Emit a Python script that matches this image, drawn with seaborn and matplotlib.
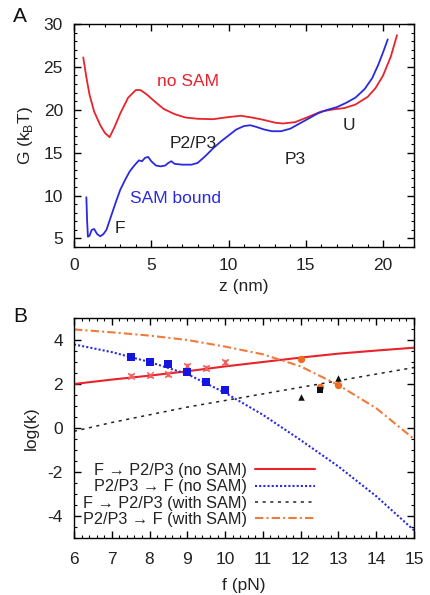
import numpy as np
import pandas as pd
import matplotlib
matplotlib.use("Agg")
import matplotlib.pyplot as plt
from matplotlib.ticker import MultipleLocator
import seaborn as sns

# ---------------- Panel A data ----------------
z_nosam = [0.6, 0.8, 1.0, 1.3, 1.7, 2.0, 2.3, 2.6, 3.0, 3.5, 4.0, 4.3, 4.7, 5.2, 5.8,
           6.5, 7.2, 8.0, 9.0, 10.0, 10.8, 11.5, 12.2, 13.0, 13.5, 14.3, 15.2, 16.0,
           16.8, 17.5, 18.2, 19.0, 19.5, 20.0, 20.5, 20.9]
G_nosam = [26.1, 23.8, 21.8, 19.8, 18.2, 17.3, 16.8, 17.9, 19.6, 21.4, 22.3, 22.3, 21.8,
           21.0, 20.1, 19.5, 19.1, 18.95, 18.9, 19.15, 19.3, 19.1, 18.85, 18.5, 18.4,
           18.55, 19.2, 19.8, 20.05, 20.2, 20.6, 21.5, 22.5, 24.0, 26.2, 28.7]

z_sam = [0.8, 0.85, 0.9, 1.0, 1.15, 1.3, 1.5, 1.7, 1.9, 2.1, 2.4, 2.7, 3.0, 3.3, 3.6,
         3.9, 4.2, 4.4, 4.6, 4.8, 5.0, 5.3, 5.6, 5.9, 6.1, 6.3, 6.5, 7.0, 7.6, 8.0,
         8.5, 9.0, 9.5, 10.0, 10.5, 11.0, 11.4, 11.8, 12.3, 12.8, 13.4, 14.0, 14.6,
         15.2, 15.8, 16.4, 17.0, 17.6, 18.2, 18.8, 19.3, 19.7, 20.0, 20.3]
G_sam = [9.8, 7.0, 5.2, 5.3, 6.0, 6.1, 5.5, 5.25, 5.5, 6.0, 7.6, 9.2, 10.7, 11.8, 12.8,
         13.5, 14.1, 14.0, 14.4, 14.5, 14.0, 13.5, 13.4, 13.5, 13.8, 14.0, 13.7, 13.6,
         13.6, 13.8, 14.6, 15.5, 16.3, 17.0, 17.7, 18.1, 18.2, 18.0, 17.7, 17.5, 17.5,
         17.8, 18.4, 19.0, 19.6, 20.0, 20.3, 20.8, 21.4, 22.4, 23.7, 25.3, 26.7, 28.2]

# ---------------- Panel B data ----------------
f_grid = [6, 7, 8, 9, 10, 11, 12, 13, 14, 15]
k_F_P_nosam = [2.0, 2.2, 2.38, 2.58, 2.8, 3.0, 3.2, 3.38, 3.52, 3.65]
k_P_F_nosam = [3.8, 3.45, 3.0, 2.45, 1.6, 0.6, -0.55, -1.75, -3.1, -4.65]
k_F_P_sam = [-0.15, 0.25, 0.6, 0.95, 1.25, 1.55, 1.85, 2.15, 2.45, 2.75]
k_P_F_sam = [4.48, 4.35, 4.2, 4.0, 3.7, 3.35, 2.8, 1.95, 0.9, -0.5]

f_red_pts = [7.5, 8.0, 8.5, 9.0, 9.5, 10.0]
k_red_pts = [2.38, 2.39, 2.45, 2.83, 2.72, 3.0]
f_blue_pts = [7.5, 8.0, 8.5, 9.0, 9.5, 10.0]
k_blue_pts = [3.22, 3.0, 2.89, 2.54, 2.08, 1.71]
f_orange_pts = [12.0, 12.5, 13.0]
k_orange_pts = [3.14, 1.85, 1.94]
f_black_tri = [12.0, 13.0]
k_black_tri = [1.41, 2.27]
f_black_sq = [12.5]
k_black_sq = [1.75]

legend_labels = ["F \u2192 P2/P3 (no SAM)", "P2/P3 \u2192 F (no SAM)",
                 "F \u2192 P2/P3 (with SAM)", "P2/P3 \u2192 F (with SAM)"]

RED = "#e8232b"
BLUE = "#2a2ae0"
BLACK = "#222222"
ORANGE = "#f07a3a"
TXT = "#222222"
FS = 12.5

sns.set_theme(style="ticks")
plt.rcParams["font.family"] = ["Liberation Sans", "DejaVu Sans"]
plt.rcParams["mathtext.fontset"] = "custom"
plt.rcParams["mathtext.rm"] = "Liberation Sans"
plt.rcParams["font.size"] = FS
plt.rcParams["axes.linewidth"] = 1.0
plt.rcParams["axes.unicode_minus"] = False

W, H = 431, 595
fig = plt.figure(figsize=(W / 100, H / 100), dpi=100)

def px_axes(l, t, r, b):
    return fig.add_axes([l / W, 1 - b / H, (r - l) / W, (b - t) / H])

def style_ticks(ax, xpad):
    ax.tick_params(which="both", direction="in", top=True, right=True,
                   labelsize=FS, color="black", labelcolor=TXT)
    ax.tick_params(which="major", length=5, width=1)
    ax.tick_params(axis="x", which="major", pad=xpad)
    ax.tick_params(axis="y", which="major", pad=8)
    ax.tick_params(which="minor", length=2.5, width=0.8)
    for s in ax.spines.values():
        s.set_color("black")
        s.set_linewidth(1.0)

# ---------------- Panel A ----------------
axA = px_axes(74, 24, 414, 247)
dA1 = pd.DataFrame({"z": z_nosam, "G": G_nosam})
dA2 = pd.DataFrame({"z": z_sam, "G": G_sam})
sns.lineplot(data=dA1, x="z", y="G", ax=axA, color=RED, lw=1.3, sort=False, estimator=None)
sns.lineplot(data=dA2, x="z", y="G", ax=axA, color=BLUE, lw=1.3, sort=False, estimator=None)
axA.set_xlim(0, 22)
axA.set_ylim(4, 30)
axA.xaxis.set_major_locator(MultipleLocator(5))
axA.xaxis.set_minor_locator(MultipleLocator(1))
axA.yaxis.set_major_locator(MultipleLocator(5))
axA.yaxis.set_minor_locator(MultipleLocator(1))
style_ticks(axA, 8)
axA.set_xlabel("z (nm)", fontsize=FS, labelpad=4, color=TXT)
axA.set_ylabel(r"G (k$_\mathregular{B}$T)", fontsize=FS, labelpad=6, color=TXT)
axA.text(7.4, 23.3, "no SAM", color=RED, fontsize=FS, ha="center", va="center")
axA.text(6.6, 9.6, "SAM bound", color=BLUE, fontsize=FS, ha="center", va="center")
axA.text(7.7, 16.1, "P2/P3", color=TXT, fontsize=FS, ha="center", va="center")
axA.text(14.3, 14.2, "P3", color=TXT, fontsize=FS, ha="center", va="center")
axA.text(17.8, 18.2, "U", color=TXT, fontsize=FS, ha="center", va="center")
axA.text(3.0, 6.2, "F", color=TXT, fontsize=FS, ha="center", va="center")

# ---------------- Panel B ----------------
axB = px_axes(74, 318, 414, 538)
dB = pd.DataFrame({"f": f_grid, "a": k_F_P_nosam, "b": k_P_F_nosam,
                   "c": k_F_P_sam, "d": k_P_F_sam})
sns.lineplot(data=dB, x="f", y="a", ax=axB, color=RED, lw=1.5, label=legend_labels[0])
sns.lineplot(data=dB, x="f", y="b", ax=axB, color=BLUE, lw=1.5, label=legend_labels[1],
             linestyle=(0, (1, 1)))
sns.lineplot(data=dB, x="f", y="c", ax=axB, color=BLACK, lw=1.1, label=legend_labels[2],
             linestyle=(0, (2, 3)))
sns.lineplot(data=dB, x="f", y="d", ax=axB, color=ORANGE, lw=1.5, label=legend_labels[3],
             linestyle=(0, (4, 1.5, 1, 1.5)))

axB.errorbar(f_red_pts, k_red_pts, yerr=0.08, fmt="none", ecolor="#f07070",
             elinewidth=0.8, capsize=2, zorder=4)
sns.scatterplot(x=f_red_pts, y=k_red_pts, ax=axB, marker="x", color="#f06060",
                s=22, linewidth=1.0, zorder=5, legend=False)
sns.scatterplot(x=f_blue_pts, y=k_blue_pts, ax=axB, marker="s", color="#1515e0",
                s=30, linewidth=0, zorder=5, legend=False)
sns.scatterplot(x=f_orange_pts, y=k_orange_pts, ax=axB, marker="o", color="#f06a20",
                s=28, linewidth=0, zorder=5, legend=False)
sns.scatterplot(x=f_black_tri, y=k_black_tri, ax=axB, marker="^", color="#111111",
                s=22, linewidth=0, zorder=6, legend=False)
sns.scatterplot(x=f_black_sq, y=k_black_sq, ax=axB, marker="s", color="#111111",
                s=18, linewidth=0, zorder=6, legend=False)

axB.set_xlim(6, 15)
axB.set_ylim(-5, 5)
axB.xaxis.set_major_locator(MultipleLocator(1))
axB.xaxis.set_minor_locator(MultipleLocator(0.2))
axB.yaxis.set_major_locator(MultipleLocator(2))
axB.yaxis.set_minor_locator(MultipleLocator(0.5))
style_ticks(axB, 10)
axB.set_xlabel("f (pN)", fontsize=FS, labelpad=8, color=TXT)
axB.set_ylabel("log(k)", fontsize=FS, labelpad=6, color=TXT)

handles, labels = axB.get_legend_handles_labels()
leg = axB.legend(handles[:4], labels[:4], loc="lower right",
                 bbox_to_anchor=((315 - 74) / 340, (538 - 527) / 220),
                 frameon=False, markerfirst=False, fontsize=11.7, handlelength=3.7,
                 labelspacing=0.08, borderpad=0, borderaxespad=0, handletextpad=0.5)
for t in leg.get_texts():
    t.set_color(TXT)

fig.text(20 / W, 1 - 17 / H, "A", fontsize=15, ha="center", va="center", color="#111111")
fig.text(20 / W, 1 - 316 / H, "B", fontsize=15, ha="center", va="center", color="#111111")

fig.savefig("out.png", dpi=100)
